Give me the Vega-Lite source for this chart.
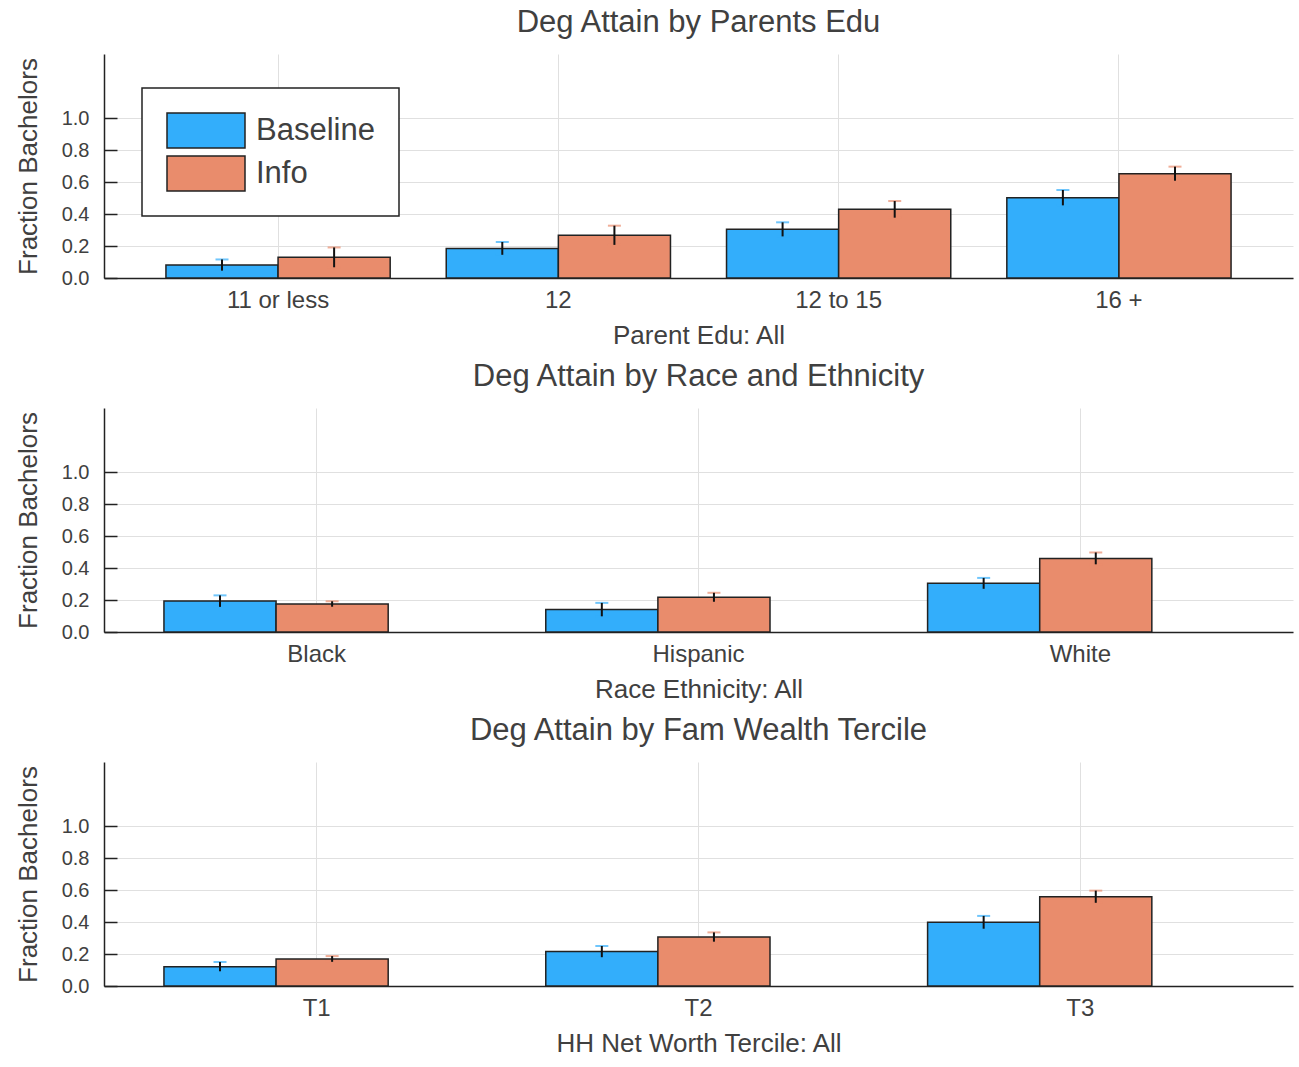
{
  "$schema": "https://vega.github.io/schema/vega-lite/v6.json",
  "padding": {"left": 15, "top": 7, "right": 7, "bottom": 5},
  "background": "white",
  "bounds": "flush",
  "spacing": 130,
  "datasets": {
    "parent": [
      {"cat": "11 or less", "group": "Baseline", "value": 0.081, "lo": 0.046, "hi": 0.116},
      {"cat": "11 or less", "group": "Info", "value": 0.129, "lo": 0.067, "hi": 0.191},
      {"cat": "12", "group": "Baseline", "value": 0.185, "lo": 0.145, "hi": 0.225},
      {"cat": "12", "group": "Info", "value": 0.267, "lo": 0.207, "hi": 0.327},
      {"cat": "12 to 15", "group": "Baseline", "value": 0.304, "lo": 0.26, "hi": 0.348},
      {"cat": "12 to 15", "group": "Info", "value": 0.429, "lo": 0.377, "hi": 0.481},
      {"cat": "16 +", "group": "Baseline", "value": 0.502, "lo": 0.454, "hi": 0.55},
      {"cat": "16 +", "group": "Info", "value": 0.652, "lo": 0.608, "hi": 0.696}
    ],
    "race": [
      {"cat": "Black", "group": "Baseline", "value": 0.193, "lo": 0.157, "hi": 0.229},
      {"cat": "Black", "group": "Info", "value": 0.175, "lo": 0.158, "hi": 0.192},
      {"cat": "Hispanic", "group": "Baseline", "value": 0.14, "lo": 0.098, "hi": 0.182},
      {"cat": "Hispanic", "group": "Info", "value": 0.217, "lo": 0.189, "hi": 0.245},
      {"cat": "White", "group": "Baseline", "value": 0.304, "lo": 0.27, "hi": 0.338},
      {"cat": "White", "group": "Info", "value": 0.46, "lo": 0.423, "hi": 0.497}
    ],
    "wealth": [
      {"cat": "T1", "group": "Baseline", "value": 0.121, "lo": 0.092, "hi": 0.15},
      {"cat": "T1", "group": "Info", "value": 0.169, "lo": 0.151, "hi": 0.187},
      {"cat": "T2", "group": "Baseline", "value": 0.215, "lo": 0.18, "hi": 0.25},
      {"cat": "T2", "group": "Info", "value": 0.306, "lo": 0.277, "hi": 0.335},
      {"cat": "T3", "group": "Baseline", "value": 0.398, "lo": 0.358, "hi": 0.438},
      {"cat": "T3", "group": "Info", "value": 0.558, "lo": 0.52, "hi": 0.596}
    ]
  },
  "vconcat": [
    {
      "title": "Deg Attain by Parents Edu",
      "data": {"name": "parent"},
      "width": 1189,
      "height": 224,
      "encoding": {
        "x": {"field": "cat", "type": "nominal", "sort": null, "scale": {"paddingInner": 0.2, "paddingOuter": 0.221}, "axis": {"title": "Parent Edu: All"}},
        "xOffset": {"field": "group", "type": "nominal", "scale": {"paddingInner": 0, "paddingOuter": 0}},
        "color": {"field": "group", "type": "nominal", "scale": {"domain": ["Baseline", "Info"], "range": ["#33AEFB", "#E98C6C"]}}
      },
      "layer": [
        {"mark": {"type": "bar", "stroke": "#222", "strokeWidth": 1.5, "opacity": 1},
         "encoding": {"y": {"field": "value", "type": "quantitative", "title": "Fraction Bachelors", "scale": {"domain": [0, 1.4], "nice": false}, "axis": {"values": [0, 0.2, 0.4, 0.6, 0.8, 1.0], "format": ".1f"}}}},
        {"mark": {"type": "tick", "thickness": 2, "size": 13},
         "encoding": {"y": {"field": "hi", "type": "quantitative", "title": "Fraction Bachelors"}}},
        {"mark": {"type": "tick", "thickness": 2, "size": 13},
         "encoding": {"y": {"field": "lo", "type": "quantitative", "title": "Fraction Bachelors"}}},
        {"mark": {"type": "rule", "strokeWidth": 2},
         "encoding": {"y": {"field": "lo", "type": "quantitative", "title": "Fraction Bachelors"}, "y2": {"field": "hi"}, "color": {"value": "#111"}}}
      ]
    },
    {
      "title": "Deg Attain by Race and Ethnicity",
      "data": {"name": "race"},
      "width": 1189,
      "height": 224,
      "encoding": {
        "x": {"field": "cat", "type": "nominal", "sort": null, "scale": {"paddingInner": 0.2, "paddingOuter": 0.157}, "axis": {"title": "Race Ethnicity: All"}},
        "xOffset": {"field": "group", "type": "nominal", "scale": {"paddingInner": 0, "paddingOuter": 0}},
        "color": {"field": "group", "type": "nominal", "scale": {"domain": ["Baseline", "Info"], "range": ["#33AEFB", "#E98C6C"]}}
      },
      "layer": [
        {"mark": {"type": "bar", "stroke": "#222", "strokeWidth": 1.5, "opacity": 1},
         "encoding": {"y": {"field": "value", "type": "quantitative", "title": "Fraction Bachelors", "scale": {"domain": [0, 1.4], "nice": false}, "axis": {"values": [0, 0.2, 0.4, 0.6, 0.8, 1.0], "format": ".1f"}}}},
        {"mark": {"type": "tick", "thickness": 2, "size": 13},
         "encoding": {"y": {"field": "hi", "type": "quantitative", "title": "Fraction Bachelors"}}},
        {"mark": {"type": "tick", "thickness": 2, "size": 13},
         "encoding": {"y": {"field": "lo", "type": "quantitative", "title": "Fraction Bachelors"}}},
        {"mark": {"type": "rule", "strokeWidth": 2},
         "encoding": {"y": {"field": "lo", "type": "quantitative", "title": "Fraction Bachelors"}, "y2": {"field": "hi"}, "color": {"value": "#111"}}}
      ]
    },
    {
      "title": "Deg Attain by Fam Wealth Tercile",
      "data": {"name": "wealth"},
      "width": 1189,
      "height": 224,
      "encoding": {
        "x": {"field": "cat", "type": "nominal", "sort": null, "scale": {"paddingInner": 0.2, "paddingOuter": 0.157}, "axis": {"title": "HH Net Worth Tercile: All"}},
        "xOffset": {"field": "group", "type": "nominal", "scale": {"paddingInner": 0, "paddingOuter": 0}},
        "color": {"field": "group", "type": "nominal", "scale": {"domain": ["Baseline", "Info"], "range": ["#33AEFB", "#E98C6C"]}}
      },
      "layer": [
        {"mark": {"type": "bar", "stroke": "#222", "strokeWidth": 1.5, "opacity": 1},
         "encoding": {"y": {"field": "value", "type": "quantitative", "title": "Fraction Bachelors", "scale": {"domain": [0, 1.4], "nice": false}, "axis": {"values": [0, 0.2, 0.4, 0.6, 0.8, 1.0], "format": ".1f"}}}},
        {"mark": {"type": "tick", "thickness": 2, "size": 13},
         "encoding": {"y": {"field": "hi", "type": "quantitative", "title": "Fraction Bachelors"}}},
        {"mark": {"type": "tick", "thickness": 2, "size": 13},
         "encoding": {"y": {"field": "lo", "type": "quantitative", "title": "Fraction Bachelors"}}},
        {"mark": {"type": "rule", "strokeWidth": 2},
         "encoding": {"y": {"field": "lo", "type": "quantitative", "title": "Fraction Bachelors"}, "y2": {"field": "hi"}, "color": {"value": "#111"}}}
      ]
    }
  ],
  "config": {
    "font": "Liberation Sans",
    "view": {"stroke": null},
    "title": {"fontSize": 31, "fontWeight": "normal", "color": "#404040", "offset": 15, "anchor": "middle"},
    "axis": {"labelColor": "#404040", "titleColor": "#404040", "titleFontWeight": "normal", "domainColor": "#222", "domainWidth": 1.5, "tickColor": "#222", "gridColor": "#e0e0e0", "gridWidth": 1},
    "axisX": {"labelFontSize": 24, "titleFontSize": 26, "ticks": false, "labelPadding": 10, "titlePadding": 10, "grid": true, "labelAngle": 0, "bandPosition": 0.5},
    "axisY": {"labelFontSize": 20, "titleFontSize": 26, "tickSize": -13, "tickWidth": 1.5, "labelPadding": 28, "titlePadding": 20, "grid": true},
    "legend": {"orient": "none", "legendX": 38, "legendY": 34, "title": null, "symbolType": "M-1,-0.45H1V0.45H-1Z", "symbolSize": 6084, "symbolStrokeColor": "#222", "symbolStrokeWidth": 1.5, "symbolOpacity": 1, "labelFontSize": 31, "labelColor": "#404040", "labelOffset": 10, "clipHeight": 37, "rowPadding": 6, "padding": 24, "strokeColor": "#222", "fillColor": "white", "strokeWidth": 1.5}
  }
}
